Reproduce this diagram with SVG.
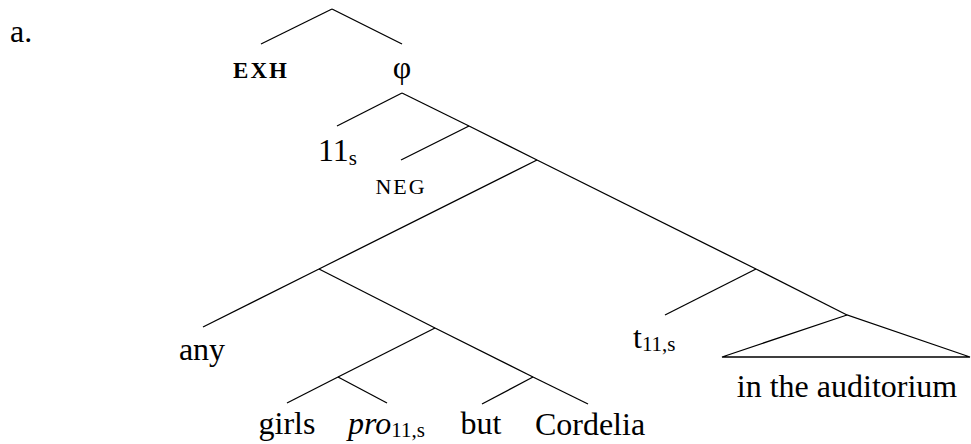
<svg xmlns="http://www.w3.org/2000/svg" width="971" height="444" viewBox="0 0 971 444" font-family="'Liberation Serif', 'Times New Roman', 'DejaVu Serif', serif">
<style>
text{font-family:'Liberation Serif','Times New Roman','DejaVu Serif',serif;font-size:32px;fill:#000}
.sc{font-size:22px;letter-spacing:2px}
.b{font-weight:bold;font-size:23px}
.sub{font-size:21px}
.m{text-anchor:middle}
#edges line,#edges polygon{stroke:#000;stroke-width:1.3;fill:none}
</style>
<rect width="971" height="444" fill="#fff"/>
<text x="10" y="42" font-size="30">a.</text>
<g id="edges">
<line x1="332" y1="9" x2="261" y2="44"/>
<line x1="332" y1="9" x2="402" y2="44"/>
<line x1="402" y1="93" x2="337" y2="126"/>
<line x1="402" y1="93" x2="469" y2="126"/>
<line x1="469" y1="126" x2="401" y2="160"/>
<line x1="469" y1="126" x2="537" y2="160"/>
<line x1="537" y1="160" x2="319" y2="269"/>
<line x1="537" y1="160" x2="756" y2="269"/>
<line x1="319" y1="269" x2="203" y2="327"/>
<line x1="319" y1="269" x2="435" y2="328"/>
<line x1="435" y1="328" x2="338" y2="377"/>
<line x1="435" y1="328" x2="533" y2="377"/>
<line x1="338" y1="377" x2="287" y2="403"/>
<line x1="338" y1="377" x2="387" y2="403"/>
<line x1="533" y1="377" x2="482" y2="404"/>
<line x1="533" y1="377" x2="588" y2="404"/>
<line x1="756" y1="269" x2="665" y2="315"/>
<line x1="756" y1="269" x2="847" y2="315"/>
<polygon points="847,315 722,357 970,357"/>
</g>
<g id="exh"><text class="sc b m" x="261" y="78">EXH</text></g>
<g id="phi"><text class="m" x="402" y="78">φ</text></g>
<g id="n11s"><text x="318" y="161">11<tspan class="sub" dy="4">s</tspan></text></g>
<g id="neg"><text class="sc m" x="401" y="194">NEG</text></g>
<g id="any"><text class="m" x="202" y="360">any</text></g>
<g id="t11s"><text x="633" y="348">t<tspan class="sub" dy="3">11,s</tspan></text></g>
<g id="auditorium"><text class="m" x="847" y="397">in the auditorium</text></g>
<g id="girls"><text class="m" x="287" y="434">girls</text></g>
<g id="pro"><text x="348" y="434"><tspan font-style="italic">pro</tspan><tspan class="sub" dy="3">11,s</tspan></text></g>
<g id="but"><text class="m" x="481" y="434">but</text></g>
<g id="cordelia"><text class="m" x="590" y="435">Cordelia</text></g>
</svg>
